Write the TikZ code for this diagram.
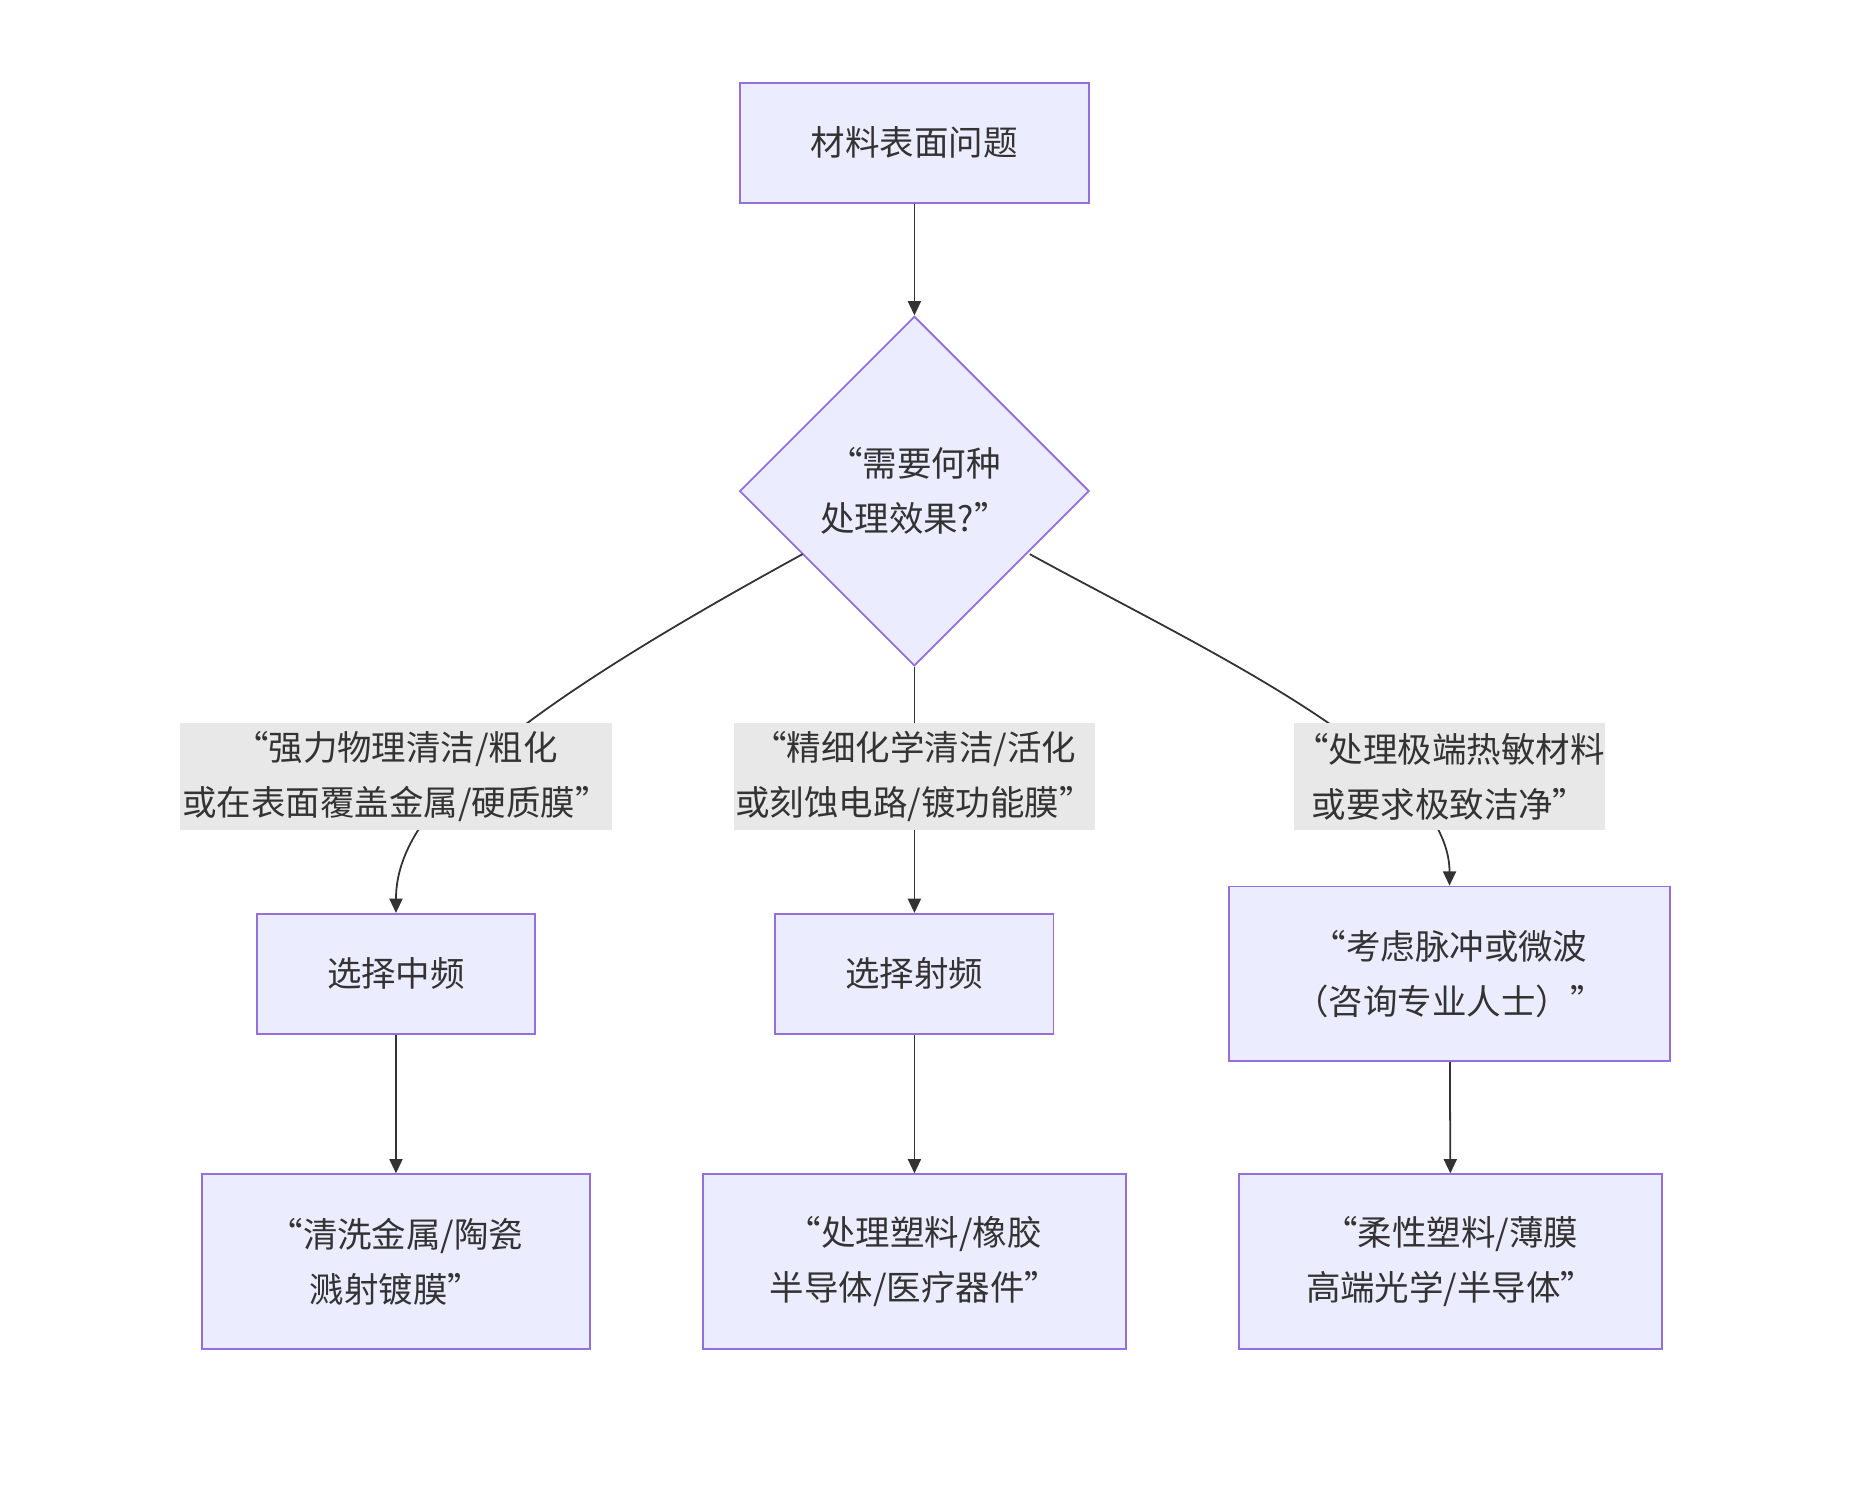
\documentclass[tikz,border=0pt]{standalone}
\usepackage{fontspec}
\setmainfont{Noto Sans CJK SC}
\usetikzlibrary{shapes.geometric,arrows.meta}
\definecolor{nf}{HTML}{ECECFF}
\definecolor{ns}{HTML}{9370DB}
\definecolor{tx}{HTML}{333333}
\definecolor{lb}{HTML}{E8E8E8}
\begin{document}
\begin{tikzpicture}[x=1pt,y=-1pt,
  box/.style={draw=ns,fill=nf,line width=1.5pt,text=tx,align=center,font=\fontsize{29}{46}\selectfont,inner sep=0pt},
  lab/.style={fill=lb,text=tx,align=center,font=\fontsize{29}{46}\selectfont,inner sep=0pt,minimum height=90},
  ed/.style={draw=tx,line width=1.5pt,-{Triangle[length=12pt,width=11pt]}}]
\useasboundingbox (0,0) rectangle (1560,1253);
\node[box,minimum width=294,minimum height=101] (a) at (769,120) {材料表面问题};
\node[box,diamond,minimum width=294,minimum height=294,aspect=1] (d) at (769,413) {“需要何种\\处理效果?”};
\node[box,minimum width=234,minimum height=101] (m) at (333,819) {选择中频};
\node[box,minimum width=234,minimum height=101] (r) at (769,819) {选择射频};
\node[box,minimum width=371,minimum height=147] (p) at (1219,819) {“考虑脉冲或微波\\（咨询专业人士）”};
\node[box,minimum width=326,minimum height=147] (b1) at (333,1061) {“清洗金属/陶瓷\\溅射镀膜”};
\node[box,minimum width=356,minimum height=147] (b2) at (769,1061) {“处理塑料/橡胶\\半导体/医疗器件”};
\node[box,minimum width=356,minimum height=147] (b3) at (1220,1061) {“柔性塑料/薄膜\\高端光学/半导体”};
\coordinate (dl) at (675,466);
\coordinate (dr) at (866,466);
\draw[ed] (a) -- (d.north);
\draw[ed] (dl) .. controls (430,600) and (333,680) .. (m.north);
\draw[ed] (d.south) -- (r.north);
\draw[ed] (dr) .. controls (1010,545) and (1219,640) .. (p.north);
\draw[ed] (m) -- (b1);
\draw[ed] (r) -- (b2);
\draw[ed] (p) -- (b3);
\node[lab,minimum width=364] (l1) at (333,653) {“强力物理清洁/粗化\\或在表面覆盖金属/硬质膜”};
\node[lab,minimum width=304] (l2) at (769,653) {“精细化学清洁/活化\\或刻蚀电路/镀功能膜”};
\node[lab,minimum width=257] (l3) at (1219,653) {“处理极端热敏材料\\或要求极致洁净”};
\end{tikzpicture}
\end{document}
